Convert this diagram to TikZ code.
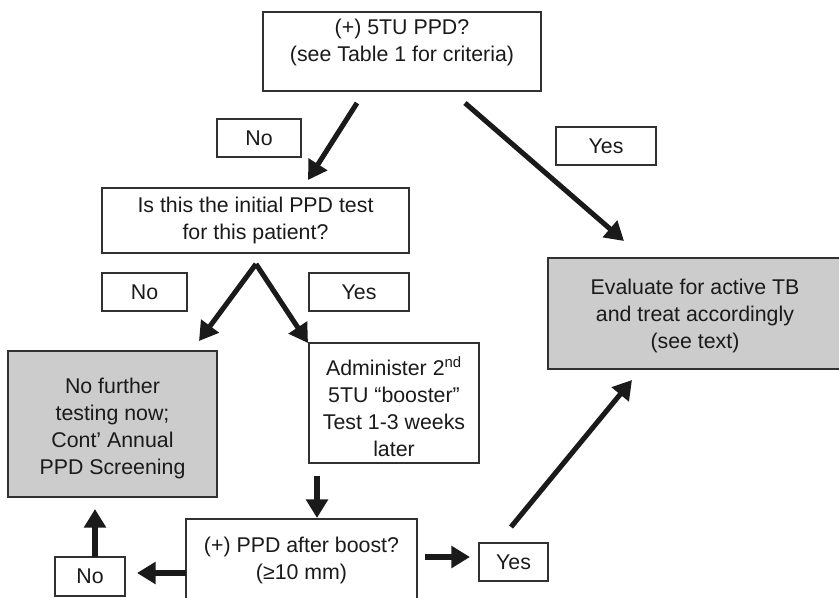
\documentclass[tikz,border=0pt]{standalone}
\usepackage{fontspec}
\setmainfont{Liberation Sans}
\usetikzlibrary{arrows.meta,fit}
\definecolor{boxgray}{HTML}{CCCCCC}
\definecolor{ink}{HTML}{1A1A1A}
\begin{document}
\begin{tikzpicture}[x=0.75pt,y=-0.75pt,
  box/.style={draw=ink!90, line width=0.8pt, inner sep=0pt},
  graybox/.style={box, fill=boxgray},
  txt/.style={align=center, font=\fontsize{16}{20.25}\selectfont, text=ink, inner sep=0pt},
  arr/.style={draw=ink, line width=3.8pt, -{Triangle[length=14pt,width=16pt]}}]
\useasboundingbox (0,0) rectangle (839,597);
\clip (0,0) rectangle (839,597);

% boxes
\node[box, fit={(263,12) (541,91)}] (q1) {};
\node[box, fit={(217,119) (301,157)}] (no1) {};
\node[box, fit={(556,127) (656,165)}] (yes1) {};
\node[box, fit={(102,188) (409,253)}] (q2) {};
\node[box, fit={(102,273) (187,311)}] (no2) {};
\node[box, fit={(309,273) (409,311)}] (yes2) {};
\node[graybox, fit={(8,351) (217,497)}] (stop) {};
\node[box, fit={(309,343) (479,463)}] (boost) {};
\node[graybox, fit={(548,258) (845,369)}] (eval) {};
\node[box, fit={(186,519) (417,601)}] (q3) {};
\node[box, fit={(479,543) (548,581)}] (yes3) {};
\node[box, fit={(55,557) (125,596)}] (no3) {};

% texts
\node[txt, yshift=6.4pt] (q1t) at (q1.center) {(+) 5TU PPD?\\(see Table 1 for criteria)};
\node[txt] (no1t) at (no1.center) {No};
\node[txt] (yes1t) at (yes1.center) {Yes};
\node[txt] (q2t) at (q2.center) {Is this the initial PPD test\\for this patient?};
\node[txt] (no2t) at (no2.center) {No};
\node[txt] (yes2t) at (yes2.center) {Yes};
\node[txt, yshift=-3pt] (stopt) at (stop.center) {No further\\testing now;\\Cont’ Annual\\PPD Screening};
\node[txt, yshift=-3pt] (boostt) at (boost.center) {Administer 2\textsuperscript{nd}\\5TU “booster”\\Test 1-3 weeks\\later};
\node[txt] (evalt) at (695,316) {Evaluate for active TB\\and treat accordingly\\(see text)};
\node[txt] (q3t) at (301.5,560) {(+) PPD after boost?\\(≥10 mm)};
\node[txt] (yes3t) at (yes3.center) {Yes};
\node[txt] (no3t) at (no3.center) {No};

% connector end points
\coordinate (a1s) at (357,103); \coordinate (a1e) at (308,180);
\coordinate (a2s) at (465,103); \coordinate (a2e) at (624,241);
\coordinate (a3s) at (256,264); \coordinate (a3l) at (199,341); \coordinate (a3r) at (308,343);
\coordinate (a5s) at (317,476); \coordinate (a5e) at (317,518);
\coordinate (a6s) at (186,573); \coordinate (a6e) at (137,573);
\coordinate (a7s) at (95,557);  \coordinate (a7e) at (95,509);
\coordinate (a8s) at (425,557); \coordinate (a8e) at (470,557);
\coordinate (a9s) at (511,527); \coordinate (a9e) at (632,380);

\draw[arr] (a1s) -- (a1e);
\draw[arr] (a2s) -- (a2e);
\draw[arr] (a3s) -- (a3l);
\draw[arr] (a3s) -- (a3r);
\draw[arr] (a5s) -- (a5e);
\draw[arr] (a6s) -- (a6e);
\draw[arr] (a7s) -- (a7e);
\draw[arr] (a8s) -- (a8e);
\draw[arr] (a9s) -- (a9e);
\end{tikzpicture}
\end{document}
